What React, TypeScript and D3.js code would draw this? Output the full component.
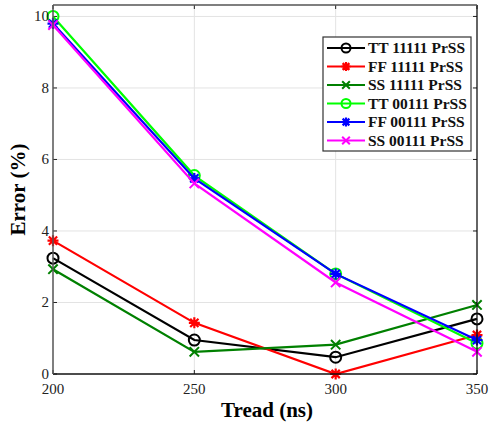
import React, { useRef, useEffect } from 'react';
import * as d3 from 'd3';

const treadNs = [200, 250, 300, 350];
const ttFull = [3.24, 0.95, 0.47, 1.54];
const ffFull = [3.73, 1.43, 0.0, 1.09];
const ssFull = [2.93, 0.62, 0.82, 1.93];
const ttPart = [10.0, 5.55, 2.8, 0.86];
const ffPart = [9.8, 5.47, 2.8, 0.95];
const ssPart = [9.76, 5.33, 2.56, 0.62];
const seriesNames = [
  'TT 11111 PrSS', 'FF 11111 PrSS', 'SS 11111 PrSS',
  'TT 00111 PrSS', 'FF 00111 PrSS', 'SS 00111 PrSS',
];
const yTicks = [0, 2, 4, 6, 8, 10];

const series = [
  { name: seriesNames[0], values: ttFull, color: '#000000', marker: 'o' },
  { name: seriesNames[1], values: ffFull, color: '#ff0000', marker: '*' },
  { name: seriesNames[2], values: ssFull, color: '#008000', marker: 'x' },
  { name: seriesNames[3], values: ttPart, color: '#00ff00', marker: 'o' },
  { name: seriesNames[4], values: ffPart, color: '#0000ff', marker: '*' },
  { name: seriesNames[5], values: ssPart, color: '#ff00ff', marker: 'x' },
];

const W = 489, H = 428;
const m = { left: 53, right: 12, top: 5, bottom: 54 };

function drawMarker(g: any, type: string, x: number, y: number, color: string, r: number) {
  if (type === 'o') {
    g.append('circle').attr('cx', x).attr('cy', y).attr('r', r)
      .attr('fill', 'none').attr('stroke', color).attr('stroke-width', 2);
  } else if (type === 'x') {
    const s = r * 0.85;
    g.append('path')
      .attr('d', `M${x - s},${y - s}L${x + s},${y + s}M${x - s},${y + s}L${x + s},${y - s}`)
      .attr('stroke', color).attr('stroke-width', 2).attr('fill', 'none');
  } else {
    const s = r * 0.75;
    g.append('path')
      .attr('d', `M${x - r},${y}L${x + r},${y}M${x},${y - r}L${x},${y + r}` +
        `M${x - s},${y - s}L${x + s},${y + s}M${x - s},${y + s}L${x + s},${y - s}`)
      .attr('stroke', color).attr('stroke-width', 2.2).attr('fill', 'none');
  }
}

export default function App() {
  const ref = useRef<SVGSVGElement>(null);

  useEffect(() => {
    const svg = d3.select(ref.current);
    svg.selectAll('*').remove();
    const x = d3.scaleLinear().domain([200, 350]).range([m.left, W - m.right]);
    const y = d3.scaleLinear().domain([0, 10.32]).range([H - m.bottom, m.top]);
    const x0 = m.left, x1 = W - m.right, y0 = H - m.bottom, y1 = m.top;
    const font = "'Liberation Serif', 'Times New Roman', serif";

    svg.append('rect').attr('width', W).attr('height', H).attr('fill', '#fff');

    // grid
    const grid = svg.append('g').attr('stroke', '#e3e3e3').attr('stroke-width', 1);
    treadNs.slice(1, -1).forEach(t => {
      grid.append('line').attr('x1', x(t)).attr('x2', x(t)).attr('y1', y0).attr('y2', y1);
    });
    yTicks.slice(1).forEach(v => {
      grid.append('line').attr('x1', x0).attr('x2', x1).attr('y1', y(v)).attr('y2', y(v));
    });

    // ticks (inward)
    const ticks = svg.append('g').attr('stroke', '#222').attr('stroke-width', 1);
    treadNs.forEach(t => {
      ticks.append('line').attr('x1', x(t)).attr('x2', x(t)).attr('y1', y0).attr('y2', y0 - 4);
      ticks.append('line').attr('x1', x(t)).attr('x2', x(t)).attr('y1', y1).attr('y2', y1 + 4);
    });
    yTicks.forEach(v => {
      ticks.append('line').attr('x1', x0).attr('x2', x0 + 4).attr('y1', y(v)).attr('y2', y(v));
      ticks.append('line').attr('x1', x1).attr('x2', x1 - 4).attr('y1', y(v)).attr('y2', y(v));
    });

    // series
    const line = d3.line<number>().x((d, i) => x(treadNs[i])).y(d => y(d));
    series.forEach(s => {
      const g = svg.append('g');
      g.append('path').datum(s.values).attr('d', line)
        .attr('fill', 'none').attr('stroke', s.color).attr('stroke-width', 2.2);
      s.values.forEach((v, i) => drawMarker(g, s.marker, x(treadNs[i]), y(v), s.color, 5.5));
    });

    // box
    svg.append('line').attr('x1', x0).attr('x2', x1).attr('y1', y0).attr('y2', y0)
      .attr('stroke', '#111').attr('stroke-width', 1.3);
    svg.append('line').attr('x1', x1).attr('x2', x1).attr('y1', y0).attr('y2', y1)
      .attr('stroke', '#111').attr('stroke-width', 1.3);
    svg.append('line').attr('x1', x0).attr('x2', x1).attr('y1', y1).attr('y2', y1)
      .attr('stroke', '#555').attr('stroke-width', 1.5);
    svg.append('line').attr('x1', x0).attr('x2', x0).attr('y1', y0).attr('y2', y1)
      .attr('stroke', '#555').attr('stroke-width', 1.5);

    // tick labels
    treadNs.forEach(t => {
      svg.append('text').attr('x', x(t)).attr('y', y0 + 20).attr('text-anchor', 'middle')
        .attr('font-family', font).attr('font-size', 15).attr('fill', '#222').text(t);
    });
    yTicks.forEach(v => {
      svg.append('text').attr('x', x0 - 4).attr('y', y(v) + 5).attr('text-anchor', 'end')
        .attr('font-family', font).attr('font-size', 15).attr('fill', '#222').text(v);
    });

    // axis titles
    svg.append('text').attr('x', (x0 + x1) / 2 + 2).attr('y', H - 11).attr('text-anchor', 'middle')
      .attr('font-family', font).attr('font-size', 21).attr('font-weight', 'bold').text('Tread (ns)');
    svg.append('text').attr('transform', `translate(25,${(y0 + y1) / 2}) rotate(-90)`)
      .attr('text-anchor', 'middle')
      .attr('font-family', font).attr('font-size', 21).attr('font-weight', 'bold').text('Error (%)');

    // legend
    const lx = 323, ly = 37, lw = 148, lh = 114;
    const leg = svg.append('g');
    leg.append('rect').attr('x', lx).attr('y', ly).attr('width', lw).attr('height', lh)
      .attr('fill', '#fff').attr('stroke', '#333').attr('stroke-width', 1.2);
    series.forEach((s, i) => {
      const cy = ly + 11 + i * 18.5;
      leg.append('line').attr('x1', lx + 4).attr('x2', lx + 42).attr('y1', cy).attr('y2', cy)
        .attr('stroke', s.color).attr('stroke-width', 2.2);
      drawMarker(leg, s.marker, lx + 23, cy, s.color, 4.5);
      leg.append('text').attr('x', lx + 45).attr('y', cy + 5)
        .attr('font-family', font).attr('font-size', 15.5).attr('font-weight', 'bold')
        .attr('fill', '#111').text(s.name);
    });
  }, []);

  return <svg ref={ref} width={W} height={H}
    style={{ display: 'block', position: 'absolute', left: 0, top: 0 }} />;
}
